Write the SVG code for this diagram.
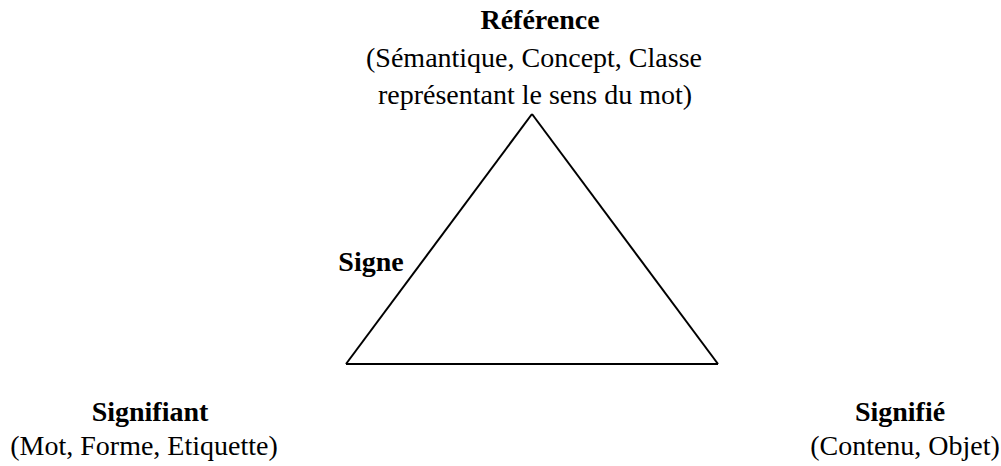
<svg xmlns="http://www.w3.org/2000/svg" width="1001" height="466" viewBox="0 0 1001 466">
<style>
text{font-family:"Liberation Serif","Times New Roman",serif;font-size:28px;fill:#000;text-anchor:middle}
.b{font-weight:bold}
.edge{fill:none;stroke:#000;stroke-width:2;stroke-linejoin:miter}
</style>
<rect width="1001" height="466" fill="#fff"/>
<g id="connectors">
<line class="edge" x1="532" y1="114" x2="346" y2="364"/>
<line class="edge" x1="532" y1="114" x2="718" y2="364"/>
<line class="edge" x1="346" y1="364" x2="718" y2="364"/>
</g>
<g id="reference">
<text class="b" x="540" y="29">Référence</text>
<text x="534" y="67">(Sémantique, Concept, Classe</text>
<text x="535" y="104">représentant le sens du mot)</text>
</g>
<g id="signe">
<text class="b" x="371" y="271">Signe</text>
</g>
<g id="signifiant">
<text class="b" x="150" y="421">Signifiant</text>
<text x="144" y="455">(Mot, Forme, Etiquette)</text>
</g>
<g id="signifie">
<text class="b" x="900" y="421">Signifié</text>
<text x="905" y="455">(Contenu, Objet)</text>
</g>
</svg>
